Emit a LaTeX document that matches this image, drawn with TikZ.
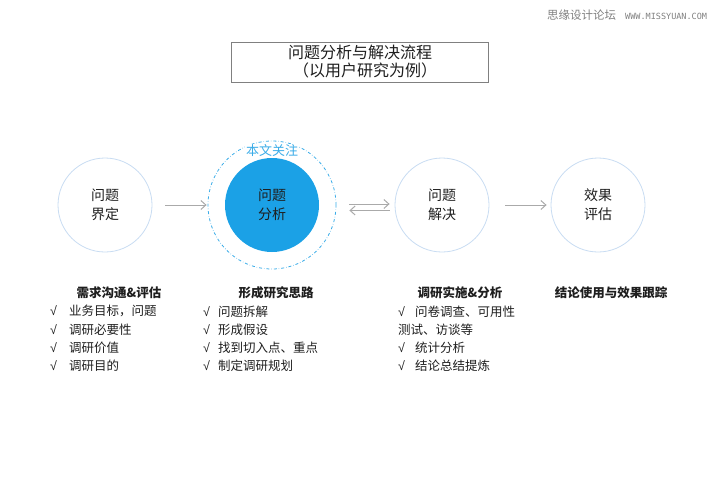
\documentclass[tikz,border=0pt]{standalone}
\usepackage{fontspec}
\setmainfont{Noto Sans CJK SC}
\newfontfamily\markfont{DejaVu Sans Mono}
\newfontfamily\tickfont{Liberation Sans}
\usetikzlibrary{arrows.meta, positioning}
\definecolor{focusBlue}{RGB}{27, 161, 230}
\definecolor{ringBlue}{RGB}{58, 172, 232}
\definecolor{edgeBlue}{RGB}{200, 220, 242}
\definecolor{arrowGray}{RGB}{170, 170, 170}
\definecolor{textDark}{RGB}{30, 30, 30}
\newcommand{\tick}[1]{\makebox[#1][l]{\tickfont √}}

\begin{document}
\begin{tikzpicture}[x=1pt, y=-1pt,
    stage/.style={circle, draw=edgeBlue, line width=0.8pt, minimum size=94pt, inner sep=0pt, align=center, font=\fontsize{14}{19}\selectfont, text=textDark},
    flow/.style={-{Straight Barb[length=5pt, width=9pt]}, arrowGray, line width=1pt},
    head/.style={font=\fontsize{12.5}{15}\selectfont\bfseries, text=textDark},
    item/.style={anchor=west, inner sep=0pt, font=\fontsize{12.5}{15}\selectfont, text=textDark}]
    \useasboundingbox (0,0) rectangle (720,498);

    % Watermark
    \node[anchor=west, inner sep=0pt, text=gray, font=\fontsize{11.5}{13}\selectfont] (site) at (547,15) {思缘设计论坛};
    \node[anchor=west, inner sep=0pt, text=gray, font=\markfont\fontsize{8.5}{10}\selectfont] (url) at (625,16) {WWW.MISSYUAN.COM};

    % Title
    \node[draw=gray, line width=0.6pt, minimum width=257pt, minimum height=40pt, align=center, font=\fontsize{16}{18}\selectfont, text=textDark] (title) at (360,62) {问题分析与解决流程\\\hspace*{10pt}（以用户研究为例）};

    % Stages
    \node[stage] (define) at (105,205) {问题\\界定};
    \node[circle, draw=ringBlue, dash dot, line width=0.8pt, minimum size=128pt] (ring) at (272,205) {};
    \node[stage, draw=none, fill=focusBlue] (analyse) at (272,205) {问题\\分析};
    \node[stage] (solve) at (442,205) {问题\\解决};
    \node[stage] (assess) at (598,205) {效果\\评估};
    \node[fill=white, inner sep=1pt, text=ringBlue, font=\fontsize{13}{14}\selectfont] (focus) at (272,151) {本文关注};

    % Arrows between stages
    \draw[flow, shorten <=13pt, shorten >=1pt] (define) -- (ring);
    \draw[flow, shorten <=13pt, shorten >=5pt] ([yshift=1pt]ring.east) -- ([yshift=1pt]solve.west);
    \draw[flow, shorten <=5pt, shorten >=13pt] ([yshift=-5.5pt]solve.west) -- ([yshift=-5.5pt]ring.east);
    \draw[flow, shorten <=16pt, shorten >=4pt] (solve) -- (assess);

    % Headings
    \node[head] (needs) at (119,293) {需求沟通\&评估};
    \node[head] (ideas) at (276,293) {形成研究思路};
    \node[head] (study) at (460,293) {调研实施\&分析};
    \node[head] (track) at (611,293) {结论使用与效果跟踪};

    % Lists
    \foreach \txt [count=\i] in {业务目标，问题, 调研必要性, 调研价值, 调研目的}
        \node[item] (needs\i) at (50, 293+18.3*\i) {\tick{19pt}\txt};
    \foreach \txt [count=\i] in {问题拆解, 形成假设, 找到切入点、重点, 制定调研规划}
        \node[item] (ideas\i) at (203, 293+18.3*\i) {\tick{15pt}\txt};
    \node[item] (study1) at (398, 311.3) {\tick{17pt}问卷调查、可用性};
    \node[item] (study2) at (398, 329.6) {测试、访谈等};
    \node[item] (study3) at (398, 347.9) {\tick{17pt}统计分析};
    \node[item] (study4) at (398, 366.2) {\tick{17pt}结论总结提炼};
\end{tikzpicture}
\end{document}
